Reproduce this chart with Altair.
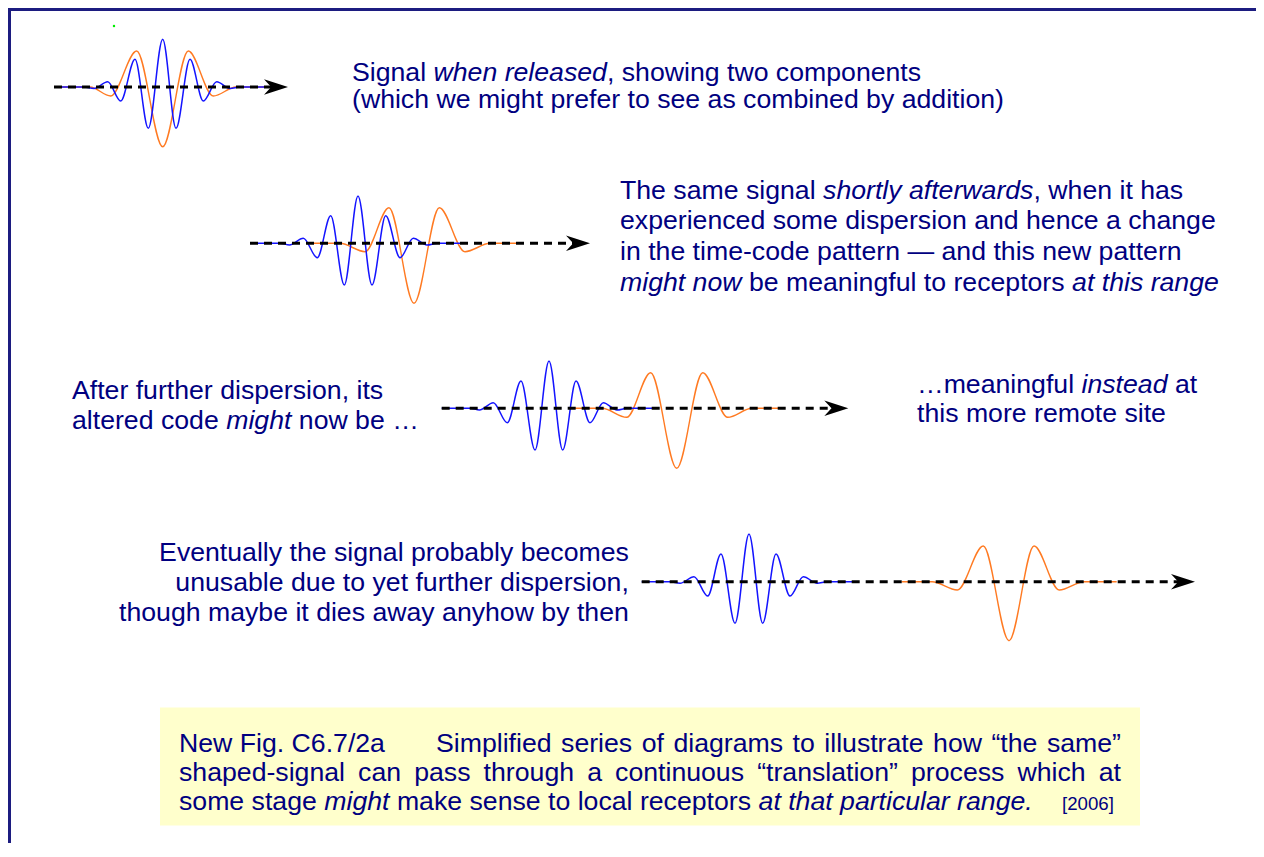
import altair as alt
import pandas as pd

NAVY = "#000080"
BLUE = "#1414ff"
ORANGE = "#ff7a22"
FONT = "Liberation Sans"
FS = 26.67          # 20 pt body text
FS_SMALL = 18.67    # 14 pt for "[2006]"

# ---------------- wave extrema (figure pixels) -------------
W1_BLUE_X = [54, 84, 94, 107.7, 120.7, 135, 148.3, 162.7, 176, 190, 203.3, 216.7, 230, 240, 273]
W1_BLUE_Y = [87, 87, 88.5, 81.7, 101, 59.3, 128.3, 39.3, 128.3, 59.3, 101, 81.7, 88.5, 87, 87]
W1_ORANGE_X = [54, 90, 110.7, 136.7, 162.7, 188.3, 213.3, 236, 273]
W1_ORANGE_Y = [87, 87, 96, 51, 146.7, 51, 96, 87, 87]

W2_BLUE_X = [250, 280, 289.5, 303.3, 317.3, 330.7, 344.3, 358, 372, 385.7, 400, 413.3, 427, 437, 466.7]
W2_BLUE_Y = [243.3, 243.3, 245, 238.3, 257.7, 215.7, 285, 196, 285, 215.7, 257.7, 238.3, 245, 243.3, 243.3]
W2_ORANGE_X = [306.7, 340, 365, 389, 414, 439.3, 465, 490, 521.7]
W2_ORANGE_Y = [243.3, 243.3, 251.7, 207.7, 303.3, 207.7, 251.7, 243.3, 243.3]

W3_BLUE_X = [441.7, 470, 479.5, 493.3, 507.3, 521, 535, 549, 562.7, 576, 590, 603.3, 617, 627, 656.7]
W3_BLUE_Y = [408.3, 408.3, 410, 402.7, 422.7, 381, 450, 361, 450, 381, 422.7, 402.7, 410, 408.3, 408.3]
W3_ORANGE_X = [570, 602, 626.7, 650.7, 676.7, 702.7, 727.7, 752, 783.3]
W3_ORANGE_Y = [408.3, 408.3, 417.3, 372.7, 468.3, 372.7, 417.3, 408.3, 408.3]

W4_BLUE_X = [641.7, 670, 680, 694, 707.7, 721, 735, 749, 762.7, 776, 790, 803.3, 817.3, 827, 856.7]
W4_BLUE_Y = [581.7, 581.7, 583.3, 576.7, 596, 554, 623.3, 534, 623.3, 554, 596, 576.7, 583.3, 581.7, 581.7]
W4_ORANGE_X = [901.7, 932, 957.3, 983.3, 1009, 1034, 1059.3, 1084, 1116.7]
W4_ORANGE_Y = [581.7, 581.7, 590, 546, 640.7, 546, 590, 581.7, 581.7]

AXIS_START = [54, 250, 441.7, 641.7]
AXIS_TIP = [288, 590, 848.3, 1195]
AXIS_Y = [87, 243.3, 408.3, 581.7]

GREEN_DOT = [114, 26]
CAPTION_BOX = [160, 1140, 707.5, 825.5]

# ---------------- texts ----------------
BLOCK1 = [[("Signal ", 0), ("when released", 1), (", showing two components", 0)],
          [("(which we might prefer to see as combined by addition)", 0)]]
BLOCK2 = [[("The same signal ", 0), ("shortly afterwards", 1), (", when it has", 0)],
          [("experienced some dispersion and hence a change", 0)],
          [("in the time-code pattern \u2014 and this new pattern", 0)],
          [("might now", 1), (" be meaningful to receptors ", 0), ("at this range", 1)]]
BLOCK3L = [[("After further dispersion, its", 0)],
           [("altered code ", 0), ("might", 1), (" now be \u2026", 0)]]
BLOCK3R = [[("\u2026meaningful ", 0), ("instead", 1), (" at", 0)],
           [("this more remote site", 0)]]
BLOCK4 = [[("Eventually the signal probably becomes", 0)],
          [("unusable due to yet further dispersion,", 0)],
          [("though maybe it dies away anyhow by then", 0)]]
CAP_HEAD = "New Fig. C6.7/2a"
CAP_L1 = "Simplified series of diagrams to illustrate how \u201cthe same\u201d"
CAP_L2 = "shaped-signal can pass through a continuous \u201ctranslation\u201d process which at"
CAP_L3 = [("some stage ", 0), ("might", 1), (" make sense to local receptors ", 0),
          ("at that particular range.", 1)]
CAP_YEAR = "[2006]"

# layout anchors (x, baselines)
B1_X, B1_Y = 352, [81, 108]
B2_X, B2_Y = 620, [199, 229, 260, 291]
B3L_X, B3L_Y = 72, [399, 429]
B3R_X, B3R_Y = 917, [393, 422]
B4_RIGHT, B4_Y = 629, [561, 591, 621]
CAP_X, CAP_RIGHT, CAP_L1_X, CAP_Y = 179, 1121, 436, [752, 781, 810]
CAP_YEAR_X = 1062

# Arial / Liberation Sans advance widths (per 1000 em)
AFM = {' ': 278, '!': 278, '"': 355, '(': 333, ')': 333, ',': 278, '-': 333, '.': 278,
       '/': 278, ':': 278, ';': 278, '[': 278, ']': 278,
       'A': 667, 'B': 667, 'C': 722, 'D': 722, 'E': 667, 'F': 611, 'G': 778, 'H': 722,
       'I': 278, 'J': 500, 'K': 667, 'L': 556, 'M': 833, 'N': 722, 'O': 778, 'P': 667,
       'Q': 778, 'R': 722, 'S': 667, 'T': 611, 'U': 722, 'V': 667, 'W': 944, 'X': 667,
       'Y': 667, 'Z': 611, 'a': 556, 'b': 556, 'c': 500, 'd': 556, 'e': 556, 'f': 278,
       'g': 556, 'h': 556, 'i': 222, 'j': 222, 'k': 500, 'l': 222, 'm': 833, 'n': 556,
       'o': 556, 'p': 556, 'q': 556, 'r': 333, 's': 500, 't': 278, 'u': 556, 'v': 500,
       'w': 722, 'x': 500, 'y': 500, 'z': 500, '\u201c': 333, '\u201d': 333,
       '\u2014': 1000, '\u2026': 1000}
for d in "0123456789":
    AFM[d] = 556


def tw(s, size=FS):
    return sum(AFM.get(c, 556) for c in s) * size / 1000.0


rows = []


def add(x, y, text, italic, size=FS):
    lead = len(text) - len(text.lstrip(" "))
    rows.append(dict(x=x + tw(" " * lead, size), y=y, text=text.strip(" "),
                     italic=italic, size=size))


def add_line(segs, x, y):
    for t, it in segs:
        add(x, y, t, it)
        x += tw(t)


def add_block(lines, x, ys, right=False):
    for segs, y in zip(lines, ys):
        x0 = x - sum(tw(t) for t, _ in segs) if right else x
        add_line(segs, x0, y)


def add_justified(line, x0, x1, y):
    words = line.split(" ")
    gap = (x1 - x0 - sum(tw(w) for w in words)) / (len(words) - 1)
    x = x0
    for w in words:
        add(x, y, w, 0)
        x += tw(w) + gap


add_block(BLOCK1, B1_X, B1_Y)
add_block(BLOCK2, B2_X, B2_Y)
add_block(BLOCK3L, B3L_X, B3L_Y)
add_block(BLOCK3R, B3R_X, B3R_Y)
add_block(BLOCK4, B4_RIGHT, B4_Y, right=True)
add(CAP_X, CAP_Y[0], CAP_HEAD, 0)
add_justified(CAP_L1, CAP_L1_X, CAP_RIGHT, CAP_Y[0])
add_justified(CAP_L2, CAP_X, CAP_RIGHT, CAP_Y[1])
add_line(CAP_L3, CAP_X, CAP_Y[2])
add(CAP_YEAR_X, CAP_Y[2], CAP_YEAR, 0, FS_SMALL)
text_df = pd.DataFrame(rows)

# ---------------- wave table ----------------
wrows = []
waves = [(W1_BLUE_X, W1_BLUE_Y, W1_ORANGE_X, W1_ORANGE_Y),
         (W2_BLUE_X, W2_BLUE_Y, W2_ORANGE_X, W2_ORANGE_Y),
         (W3_BLUE_X, W3_BLUE_Y, W3_ORANGE_X, W3_ORANGE_Y),
         (W4_BLUE_X, W4_BLUE_Y, W4_ORANGE_X, W4_ORANGE_Y)]
for i, (bx, by, ox, oy) in enumerate(waves):
    for x, y in zip(bx, by):
        wrows.append(dict(key=f"b{i}", series="blue", x=x, y=y))
    for x, y in zip(ox, oy):
        wrows.append(dict(key=f"o{i}", series="orange", x=x, y=y))
wave_df = pd.DataFrame(wrows)

axis_df = pd.DataFrame(dict(x=AXIS_START, tip=AXIS_TIP, y=AXIS_Y))
axis_df["dash_end"] = axis_df["tip"] - 14

# ---------------- chart ----------------
W, H = 1248, 835
xs = alt.Scale(domain=[8, 8 + W], nice=False, zero=False)
ys = alt.Scale(domain=[8, 8 + H], nice=False, zero=False, reverse=True)
X = lambda f: alt.X(f, scale=xs, axis=None)
Y = lambda f: alt.Y(f, scale=ys, axis=None)

frame_top = alt.Chart(pd.DataFrame({"a": [0]})).mark_rule(color="#1c1c80", strokeWidth=3).encode(
    x=alt.value(0), x2=alt.value(W), y=alt.value(1.5))
frame_left = alt.Chart(pd.DataFrame({"a": [0]})).mark_rule(color="#1c1c80", strokeWidth=3).encode(
    x=alt.value(1.5), y=alt.value(0), y2=alt.value(H))

box = alt.Chart(pd.DataFrame({"x": [CAPTION_BOX[0]], "x2": [CAPTION_BOX[1]],
                              "y": [CAPTION_BOX[2]], "y2": [CAPTION_BOX[3]]})).mark_rect(
    color="#ffffcc").encode(x=X("x:Q"), x2="x2:Q", y=Y("y:Q"), y2="y2:Q")

orange = alt.Chart(wave_df).transform_filter(alt.datum.series == "orange").mark_line(
    interpolate="monotone", color=ORANGE, strokeWidth=1.4).encode(
    x=X("x:Q"), y=Y("y:Q"), detail="key:N")
blue = alt.Chart(wave_df).transform_filter(alt.datum.series == "blue").mark_line(
    interpolate="monotone", color=BLUE, strokeWidth=1.5).encode(
    x=X("x:Q"), y=Y("y:Q"), detail="key:N")

dashes = alt.Chart(axis_df).mark_rule(color="black", strokeWidth=3, strokeDash=[8, 6]).encode(
    x=X("x:Q"), x2="dash_end:Q", y=Y("y:Q"))
ARROW = "M1,0 L-1,-0.65 L-0.4,0 L-1,0.65 Z"
heads = alt.Chart(axis_df).mark_point(shape=ARROW, filled=True, size=576, color="black",
                                      opacity=1, strokeWidth=0, xOffset=-12).encode(
    x=X("tip:Q"), y=Y("y:Q"))

green = alt.Chart(pd.DataFrame({"x": [GREEN_DOT[0]], "y": [GREEN_DOT[1]]})).mark_point(
    filled=True, color="#00ee00", size=6, opacity=1).encode(x=X("x:Q"), y=Y("y:Q"))

txt_normal = alt.Chart(text_df).transform_filter(alt.datum.italic == 0).mark_text(
    font=FONT, color=NAVY, align="left", baseline="alphabetic").encode(
    x=X("x:Q"), y=Y("y:Q"), text="text:N", size=alt.Size("size:Q", scale=None))
txt_italic = alt.Chart(text_df).transform_filter(alt.datum.italic == 1).mark_text(
    font=FONT, color=NAVY, align="left", baseline="alphabetic", fontStyle="italic").encode(
    x=X("x:Q"), y=Y("y:Q"), text="text:N", size=alt.Size("size:Q", scale=None))

chart = alt.layer(box, orange, blue, dashes, heads, green, txt_normal, txt_italic,
                  frame_top, frame_left).properties(
    width=W, height=H, padding=0, autosize=alt.AutoSizeParams(type="none"),
    background="white").configure_view(stroke=None)

chart.save("out.html", embed_options={"renderer": "svg", "actions": False})
